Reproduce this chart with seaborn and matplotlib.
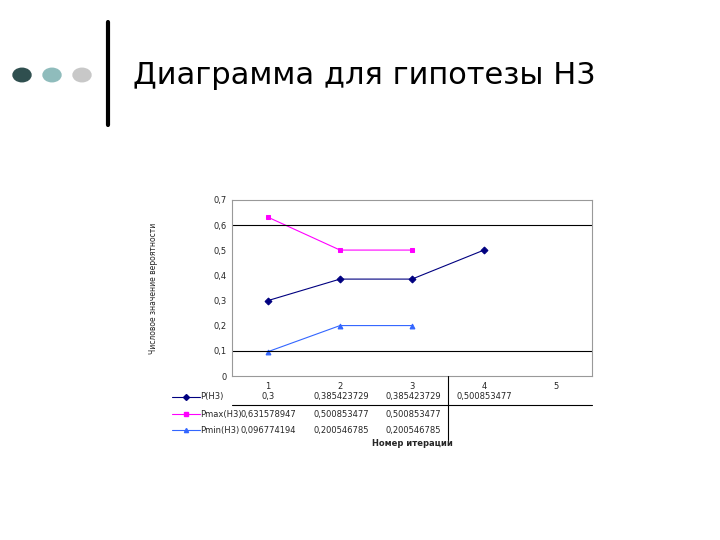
import matplotlib
matplotlib.use("Agg")
import matplotlib.pyplot as plt
import seaborn as sns
import pandas as pd
from matplotlib.patches import Circle
from matplotlib.lines import Line2D

iterations = [1, 2, 3, 4, 5]
p_h3 = [0.3, 0.385423729, 0.385423729, 0.500853477]
p_max = [0.631578947, 0.500853477, 0.500853477]
p_min = [0.096774194, 0.200546785, 0.200546785]
series_names = ["P(H3)", "Pmax(H3)", "Pmin(H3)"]
series_vals = [p_h3, p_max, p_min]
colors = ["#000080", "#FF00FF", "#3366FF"]
markers = ["D", "s", "^"]
ylabels = ["0", "0,1", "0,2", "0,3", "0,4", "0,5", "0,6", "0,7"]

sns.set_style("white")
plt.rcParams['font.family'] = ['DejaVu Sans']
fig = plt.figure(figsize=(7.2, 5.4), dpi=100)
W, H = 720, 540
def fx(x): return x / W
def fy(y): return 1 - y / H

# slide decoration
for cx, col in [(22, "#2F4F4F"), (52, "#8FBCBC"), (82, "#C8C8C8")]:
    fig.patches.append(Circle((fx(cx), fy(75)), 9 / W, transform=fig.transFigure,
                              color=col, zorder=5))
fig.add_artist(Line2D([fx(108), fx(108)], [fy(22), fy(125)], color="black", lw=3))
fig.text(fx(133), fy(75), "Диаграмма для гипотезы H3", fontsize=22, va="center",
         ha="left", color="black")

ax = fig.add_axes([fx(232), fy(376), fx(592) - fx(232), fy(200) - fy(376)])
rows = []
for name, vals in zip(series_names, series_vals):
    for i, v in enumerate(vals):
        rows.append({"iter": i, "val": v, "series": name})
df = pd.DataFrame(rows)
for name, col, m in zip(series_names, colors, markers):
    sub = df[df.series == name]
    sns.lineplot(data=sub, x="iter", y="val", ax=ax, color=col, marker=m,
                 markersize=3.5, markeredgecolor=col, lw=0.8, legend=False)
ax.set_xlim(-0.5, 4.5)
ax.set_ylim(0, 0.7)
ax.set_yticks([i / 10 for i in range(8)])
ax.set_yticklabels(ylabels, fontsize=6)
ax.set_xticks(range(5))
ax.set_xticklabels([str(i) for i in iterations], fontsize=6)
ax.tick_params(length=0, pad=4)
ax.set_xlabel("")
ax.set_ylabel("Числовое значение вероятности", fontsize=5.5, labelpad=40)
for g in [0.6, 0.1]:
    ax.axhline(g, color="black", lw=0.8)
for s in ax.spines.values():
    s.set_color("#999999"); s.set_linewidth(0.8)

# data table below
colx = [268, 341, 413, 484]
rowy = [397, 414, 430]
for (name, vals, col, m), y in zip(zip(series_names, series_vals, colors, markers), rowy):
    fig.add_artist(Line2D([fx(172), fx(200)], [fy(y), fy(y)], color=col, lw=0.8))
    fig.add_artist(Line2D([fx(186)], [fy(y)], color=col, marker=m, markersize=3,
                          markerfacecolor=col, markeredgecolor=col))
    fig.text(fx(200), fy(y), name, fontsize=6, va="center", ha="left")
    for x, v in zip(colx, vals):
        txt = ("%.9f" % v).rstrip("0").replace(".", ",")
        fig.text(fx(x), fy(y), txt, fontsize=6, va="center", ha="center")
fig.add_artist(Line2D([fx(232), fx(592)], [fy(405), fy(405)], color="black", lw=0.8))
fig.add_artist(Line2D([fx(448), fx(448)], [fy(376), fy(440)], color="black", lw=0.8))
fig.text(fx(412), fy(443), "Номер итерации", fontsize=6, fontweight="bold",
         ha="center", va="center")

fig.savefig("out.png", dpi=100)
